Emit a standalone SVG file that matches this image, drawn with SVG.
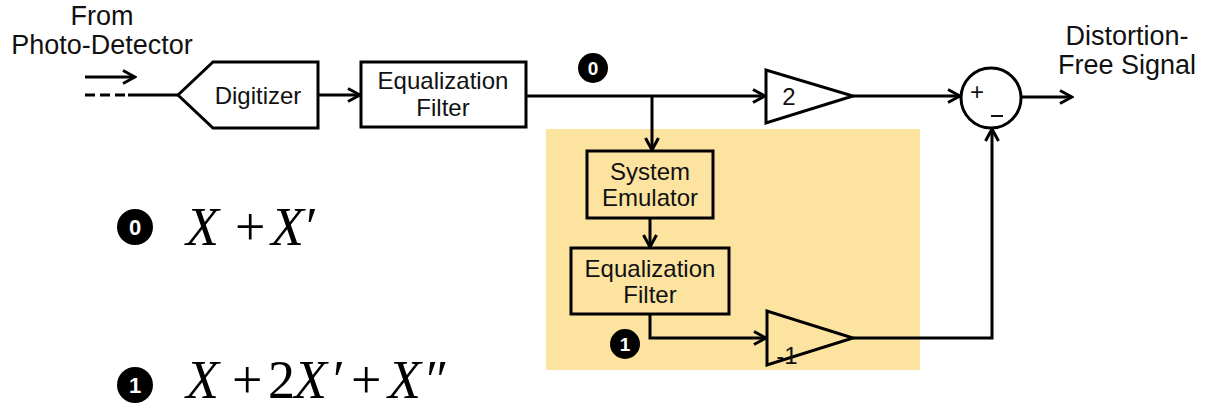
<svg xmlns="http://www.w3.org/2000/svg" width="1206" height="408" viewBox="0 0 1206 408">
  <style>
    .blk { fill: #ffffff; stroke: #000; stroke-width: 3; stroke-linejoin: miter; }
    .inner { fill: none; stroke: #000; stroke-width: 3; stroke-linejoin: miter; }
    .wire { fill: none; stroke: #000; stroke-width: 3; }
    .lbl { font-family: "Liberation Sans", Arial, sans-serif; font-size: 24px; fill: #111; text-anchor: middle; }
    .cap { font-family: "Liberation Sans", Arial, sans-serif; font-size: 27px; fill: #111; text-anchor: middle; }
    .tag { font-family: "Liberation Sans", Arial, sans-serif; font-weight: bold; fill: #fff; text-anchor: middle; }
    .math { font-family: "Liberation Serif", "Times New Roman", serif; font-size: 54px; fill: #000; }
    .it { font-style: italic; }
  </style>
  <defs>
    <marker id="arrow" markerUnits="userSpaceOnUse" viewBox="0 0 16 16" markerWidth="16" markerHeight="16" refX="14" refY="8" orient="auto">
      <path d="M2,1.5 L14,8 L2,14.5" fill="none" stroke="#000" stroke-width="3"/>
    </marker>
  </defs>

  <rect width="1206" height="408" fill="#ffffff"/>

  <!-- shaded region around the emulation branch -->
  <rect id="emulation-region" x="546" y="129" width="374" height="241" fill="#fce4a0"/>

  <!-- input caption -->
  <g id="input">
    <text class="cap" x="102" y="25">From</text>
    <text class="cap" x="102" y="54">Photo-Detector</text>
  </g>

  <g id="connectors">
    <line class="wire" x1="85" y1="77" x2="135" y2="77" marker-end="url(#arrow)"/>
    <line class="wire" x1="85" y1="95" x2="130" y2="95" stroke-dasharray="10,5"/>
    <line class="wire" x1="128" y1="95" x2="178" y2="95"/>
    <line class="wire" x1="318" y1="95" x2="360" y2="95" marker-end="url(#arrow)"/>
    <line class="wire" x1="526" y1="96" x2="765" y2="96" marker-end="url(#arrow)"/>
    <line class="wire" x1="652" y1="96" x2="652" y2="150" marker-end="url(#arrow)"/>
    <line class="wire" x1="650" y1="218" x2="650" y2="247" marker-end="url(#arrow)"/>
    <polyline class="wire" points="650,314 650,338 766,338" marker-end="url(#arrow)"/>
    <line class="wire" x1="853" y1="96" x2="960" y2="96" marker-end="url(#arrow)"/>
    <polyline class="wire" points="853,338 992,338 992,129" marker-end="url(#arrow)"/>
    <line class="wire" x1="1021" y1="97" x2="1072" y2="97" marker-end="url(#arrow)"/>
  </g>

  <g id="digitizer">
    <polygon class="blk" points="178,95 213,62 318,62 318,128 213,128"/>
    <text class="lbl" x="258" y="104">Digitizer</text>
  </g>

  <g id="equalizer-1">
    <rect class="blk" x="361" y="62" width="165" height="65"/>
    <text class="lbl" x="443" y="89">Equalization</text>
    <text class="lbl" x="443" y="116">Filter</text>
  </g>

  <g id="tap-0">
    <circle cx="593" cy="68" r="15" fill="#000"/>
    <text class="tag" x="593" y="75" font-size="19">0</text>
  </g>

  <g id="gain-2">
    <polygon class="blk" points="766,70 766,123 853,96"/>
    <text class="lbl" x="789" y="105">2</text>
  </g>

  <g id="system-emulator">
    <rect class="inner" x="587" y="151" width="126" height="67"/>
    <text class="lbl" x="650" y="180">System</text>
    <text class="lbl" x="650" y="206">Emulator</text>
  </g>

  <g id="equalizer-2">
    <rect class="inner" x="571" y="248" width="158" height="66"/>
    <text class="lbl" x="650" y="277">Equalization</text>
    <text class="lbl" x="650" y="303">Filter</text>
  </g>

  <g id="tap-1">
    <circle cx="625" cy="344" r="15" fill="#000"/>
    <text class="tag" x="625" y="351" font-size="19">1</text>
  </g>

  <g id="gain-minus-1">
    <polygon class="inner" points="767,311 767,365 853,338"/>
    <text class="lbl" x="787" y="364">-1</text>
  </g>

  <g id="summer">
    <circle cx="991" cy="98" r="30" fill="#fff" stroke="#000" stroke-width="3"/>
    <text class="lbl" x="977" y="100" font-size="20">+</text>
    <line x1="991" y1="116" x2="1003" y2="116" stroke="#111" stroke-width="2"/>
  </g>

  <g id="output">
    <text class="cap" x="1127" y="45">Distortion-</text>
    <text class="cap" x="1127" y="74">Free Signal</text>
  </g>

  <!-- signal content at each tap -->
  <g id="eq-0">
    <circle cx="135" cy="227" r="18" fill="#000"/>
    <text class="tag" x="135" y="235" font-size="22">0</text>
    <text class="math" y="245"><tspan class="it" x="186">X</tspan><tspan x="235">+</tspan><tspan class="it" x="271">X</tspan><tspan x="306">′</tspan></text>
  </g>

  <g id="eq-1">
    <circle cx="135" cy="385" r="18" fill="#000"/>
    <text class="tag" x="135" y="393" font-size="22">1</text>
    <text class="math" y="398"><tspan class="it" x="186">X</tspan><tspan x="232">+</tspan><tspan x="268">2</tspan><tspan class="it" x="294">X</tspan><tspan x="333">′</tspan><tspan x="351">+</tspan><tspan class="it" x="388">X</tspan><tspan x="426">″</tspan></text>
  </g>
</svg>
